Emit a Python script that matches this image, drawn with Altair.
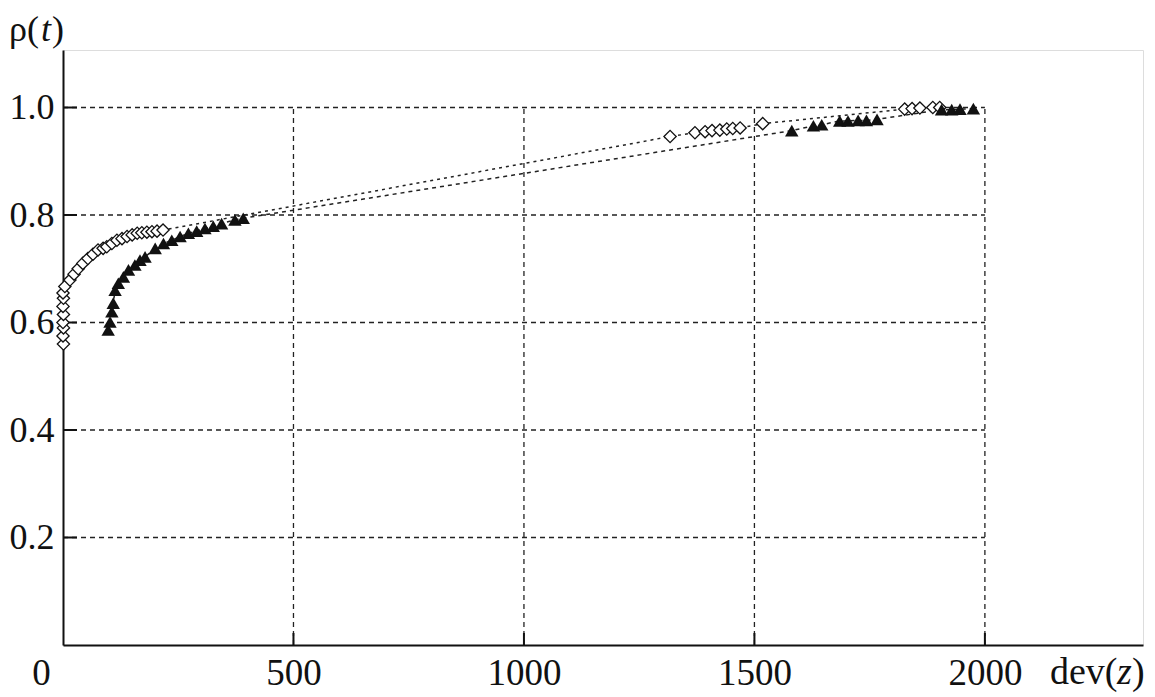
import altair as alt
import pandas as pd

# ---- data ----
dia_x = [1, 0, 1, 0, 1, 0, 1, 0, 4, 15, 24, 33, 43, 54, 65, 76, 87, 95, 106, 117, 128, 139, 150, 161, 171, 182, 193, 204, 217,
         1317, 1371, 1393, 1408, 1425, 1440, 1453, 1469, 1518, 1826, 1842, 1859, 1887, 1902]
dia_y = [0.560, 0.575, 0.590, 0.600, 0.615, 0.630, 0.645, 0.655, 0.667, 0.679, 0.690, 0.700, 0.710, 0.719, 0.727, 0.735, 0.738, 0.741, 0.747, 0.753, 0.756, 0.760, 0.763, 0.766, 0.767, 0.768, 0.769, 0.770, 0.772,
         0.946, 0.953, 0.955, 0.957, 0.958, 0.960, 0.961, 0.962, 0.970, 0.997, 0.998, 0.999, 1.000, 1.000]

tri_x = [98, 102, 106, 109, 113, 120, 131, 142, 156, 167, 178, 200, 218, 236, 254, 272, 290, 308, 326, 344, 373, 391,
         1581, 1628, 1646, 1685, 1703, 1725, 1743, 1766, 1906, 1928, 1946, 1975]
tri_y = [0.586, 0.601, 0.620, 0.636, 0.660, 0.673, 0.685, 0.698, 0.707, 0.716, 0.722, 0.738, 0.747, 0.753, 0.760, 0.766, 0.770, 0.775, 0.779, 0.784, 0.791, 0.794,
         0.957, 0.966, 0.968, 0.975, 0.975, 0.976, 0.976, 0.978, 0.996, 0.996, 0.997, 0.998]

y_ticks = [0.2, 0.4, 0.6, 0.8, 1.0]
x_ticks = [0, 500, 1000, 1500, 2000]
x_grid = [500, 1000, 1500, 2000]

FONT = "Liberation Serif"
W, H = 1080, 595

dia = pd.DataFrame({"x": dia_x, "y": dia_y, "o": range(len(dia_x))})
tri = pd.DataFrame({"x": tri_x, "y": tri_y, "o": range(len(tri_x))})
hgrid = pd.DataFrame({"y": y_ticks, "x0": [0] * 5, "x1": [2000] * 5})
vgrid = pd.DataFrame({"x": x_grid, "y0": [0] * 4, "y1": [1.0] * 4})
ytk = pd.DataFrame({"y": y_ticks})
xtk = pd.DataFrame({"x": x_grid})

xs = alt.Scale(domain=[0, 2343], nice=False, zero=False)
ys = alt.Scale(domain=[0, 1.107], nice=False, zero=False)

x_axis = alt.Axis(values=x_ticks, format="d", grid=False, ticks=False, domainColor="#111", domainWidth=2,
                  labelFont=FONT, labelFontSize=37, labelColor="#111", labelPadding=10, title=None,
                  labelFlush=False, labelOverlap=False,
                  labelOffset={"condition": {"test": "datum.value == 0", "value": -22}, "value": 0})
y_axis = alt.Axis(values=y_ticks, format=".1f", grid=False, ticks=False, domainColor="#111", domainWidth=2,
                  labelFont=FONT, labelFontSize=36, labelColor="#111", labelPadding=9, title=None,
                  labelOverlap=False)

X = lambda f: alt.X(f, type="quantitative", scale=xs, axis=x_axis)
Y = lambda f: alt.Y(f, type="quantitative", scale=ys, axis=y_axis)

dash = [5, 4]

hg = alt.Chart(hgrid).mark_rule(color="#222", strokeWidth=1.3, strokeDash=dash).encode(
    x=X("x0"), x2="x1", y=Y("y"))
vg = alt.Chart(vgrid).mark_rule(color="#222", strokeWidth=1.3, strokeDash=dash).encode(
    x=X("x"), y=Y("y0"), y2="y1")
yt = alt.Chart(ytk).mark_rule(color="#111", strokeWidth=2).encode(
    y=Y("y"), x=alt.value(0), x2=alt.value(14))
xt = alt.Chart(xtk).mark_rule(color="#111", strokeWidth=2).encode(
    x=X("x"), y=alt.value(H), y2=alt.value(H - 12))

dline = alt.Chart(dia).mark_line(color="#222", strokeWidth=1.5, strokeDash=[3, 4]).encode(
    x=X("x"), y=Y("y"), order="o:Q")
tline = alt.Chart(tri).mark_line(color="#222", strokeWidth=1.5, strokeDash=[4, 4]).encode(
    x=X("x"), y=Y("y"), order="o:Q")

dpts = alt.Chart(dia).mark_point(shape="diamond", size=150, filled=False, fill="white", fillOpacity=1,
                                 stroke="#111", strokeWidth=1.3, opacity=1).encode(x=X("x"), y=Y("y"))
tpts = alt.Chart(tri).mark_point(shape="triangle-up", size=180, filled=True, color="#111", opacity=1).encode(
    x=X("x"), y=Y("y"))

def txt(s, px, py, size=38, style="normal"):
    return alt.Chart(pd.DataFrame({"t": [s]})).mark_text(
        font=FONT, fontSize=size, fontStyle=style, align="left", baseline="alphabetic", color="#111"
    ).encode(x=alt.value(px), y=alt.value(py), text="t:N")

titles = [
    txt("dev(", 987, 634), txt("z", 1054, 634, style="italic"), txt(")", 1069, 634),
    txt("ρ(", -54, -9, 36), txt("t", -22, -9, 36, "italic"), txt(")", -11, -9, 36),
]

chart = alt.layer(hg, vg, yt, xt, dline, tline, dpts, tpts, *titles).properties(
    width=W, height=H, autosize="none",
    padding={"left": 55, "top": 42, "right": 4, "bottom": 50},
    background="white",
).configure_view(stroke=None).configure(font=FONT).configure_axis(labelFont=FONT).configure_text(font=FONT)

chart.save("out.html", embed_options={"renderer": "svg", "actions": False})
